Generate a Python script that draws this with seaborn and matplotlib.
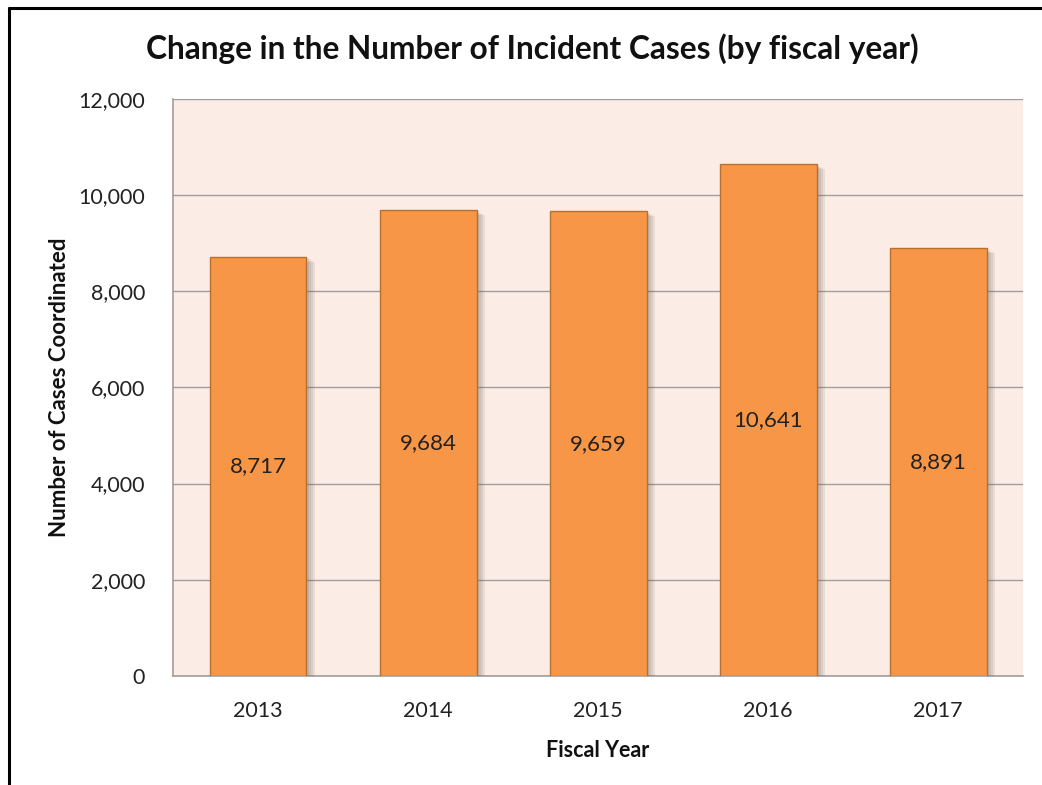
import matplotlib
matplotlib.use("Agg")
import matplotlib.pyplot as plt
import matplotlib.patheffects as pe
from matplotlib.lines import Line2D
from matplotlib.ticker import FuncFormatter
import seaborn as sns
import pandas as pd

# Incident cases coordinated, by fiscal year
years = ["2013", "2014", "2015", "2016", "2017"]
cases = [8717, 9684, 9659, 10641, 8891]
y_ticks = [0, 2000, 4000, 6000, 8000, 10000, 12000]

df = pd.DataFrame({"year": years, "cases": cases})

sns.set_theme(style="white")
plt.rcParams["font.family"] = ["Lato", "DejaVu Sans"]

fig = plt.figure(figsize=(10.42, 7.85), dpi=100)
fig.patch.set_facecolor("white")
ax = fig.add_axes([0.166, 0.139, 0.816, 0.735])
ax.set_facecolor("#FBEDE6")

sns.barplot(data=df, x="year", y="cases", color="#F79646", saturation=1,
            width=0.57, edgecolor="#B8702F", linewidth=1.0, ax=ax, zorder=3)

# soft drop shadow built from a few faint offset layers
shadow = [pe.SimplePatchShadow(offset=(d, -d * 0.6), shadow_rgbFace="#6f625b", alpha=0.12)
          for d in (1.5, 3, 4.5, 6)]
for bar in ax.patches:
    bar.set_path_effects(shadow + [pe.Normal()])

ax.set_ylim(0, 12000)
ax.set_yticks(y_ticks)
ax.yaxis.set_major_formatter(FuncFormatter(lambda v, p: f"{int(v):,}"))
ax.grid(axis="y", color="#A39C99", linewidth=1.0, zorder=0)
ax.set_axisbelow(True)

for side in ["top", "right"]:
    ax.spines[side].set_visible(False)
for side in ["left", "bottom"]:
    ax.spines[side].set_color("#A39C99")
    ax.spines[side].set_linewidth(1.2)

ax.tick_params(axis="both", length=0, labelsize=15.5, colors="#222222")
ax.tick_params(axis="y", pad=20)
ax.tick_params(axis="x", pad=18)

for bar, val in zip(ax.patches, cases):
    ax.text(bar.get_x() + bar.get_width() / 2, val / 2, f"{val:,}",
            ha="center", va="center", fontsize=16, color="#222222", zorder=5)

ax.set_xlabel("Fiscal Year", fontsize=15.5, fontweight="bold", color="#111111", labelpad=14)
ax.set_ylabel("Number of Cases Coordinated", fontsize=16, fontweight="bold",
              color="#111111", labelpad=6)

fig.text(0.511, 0.938, "Change in the Number of Incident Cases (by fiscal year)",
         ha="center", va="center", fontsize=22.8, fontweight="bold", color="#111111")

# Frame lines along the left and top edges
fig.add_artist(Line2D([0.0085, 0.0085], [0.0, 0.9895], color="black", linewidth=2.2))
fig.add_artist(Line2D([0.0085, 1.0], [0.9895, 0.9895], color="black", linewidth=2.2))

fig.savefig("out.png", dpi=100)
